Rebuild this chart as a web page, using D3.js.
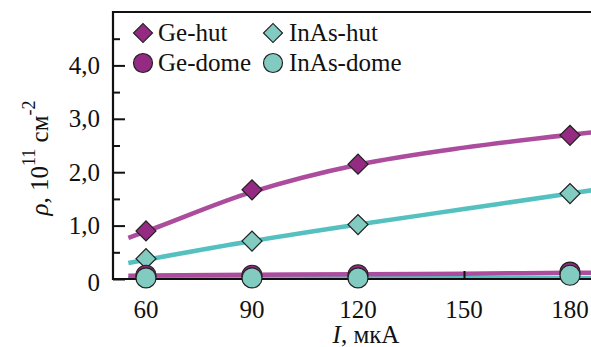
<!DOCTYPE html>
<html>
<head>
<meta charset="utf-8">
<script src="https://cdn.jsdelivr.net/npm/d3@7"></script>
<style>
  #chart text, #chart tspan { font-family: "Liberation Serif", "Times New Roman", serif !important; }
</style>
</head>
<body style="margin:0">
<svg id="chart" width="591" height="347"></svg>
<script>
// Current, µA
const currents = [60, 90, 120, 180];
// Island density, 10^11 cm^-2
const geHut = [0.90, 1.67, 2.15, 2.69];
const inasHut = [0.38, 0.71, 1.02, 1.60];
const geDome = [0.07, 0.07, 0.08, 0.13];
const inasDome = [0.02, 0.02, 0.02, 0.07];

// Smooth fitted curves
const fitCurrents = [55, 60, 90, 120, 150, 180, 190];
const geHutFit = [0.77, 0.89, 1.63, 2.14, 2.46, 2.70, 2.77];
const inasHutFit = [0.30, 0.36, 0.71, 1.02, 1.31, 1.60, 1.70];
const geDomeFit = [0.06, 0.065, 0.08, 0.09, 0.10, 0.115, 0.12];
const inasDomeFit = [0.015, 0.015, 0.02, 0.02, 0.02, 0.02, 0.02];

const xTicks = [60, 90, 120, 150, 180];
const xTickLabels = ["60", "90", "120", "150", "180"];
const yMajor = [0, 1, 2, 3, 4];
const yTickLabels = ["0", "1,0", "2,0", "3,0", "4,0"];
const yMinor = [0.5, 1.5, 2.5, 3.5, 4.5];

const purpleFill = "#952a82", purpleLine = "#ac4c9c";
const tealFill = "#82cbc0", tealLine = "#55c0c0";
const serif = "Liberation Serif";

const svg = d3.select("#chart").attr("font-family", serif);
const plotLeft = 113, plotTop = 12, plotBottom = 279, plotRight = 591;

const x = d3.scaleLinear().domain([60, 180]).range([146, 570]);
const y = d3.scaleLinear().domain([0, 5]).range([plotBottom, plotTop]);

svg.append("defs").append("clipPath").attr("id", "plot")
  .append("rect").attr("x", plotLeft).attr("y", plotTop)
  .attr("width", plotRight - plotLeft).attr("height", plotBottom - plotTop);

// Fitted curves
const line = d3.line().x(d => x(d[0])).y(d => y(d[1])).curve(d3.curveMonotoneX);
const fits = [
  { v: inasDomeFit, c: tealLine },
  { v: geDomeFit, c: purpleLine },
  { v: inasHutFit, c: tealLine },
  { v: geHutFit, c: purpleLine }
];
const gl = svg.append("g").attr("clip-path", "url(#plot)");
fits.forEach(f => {
  gl.append("path")
    .attr("d", line(fitCurrents.map((c, i) => [c, f.v[i]])))
    .attr("fill", "none").attr("stroke", f.c).attr("stroke-width", 4.5);
});

// Axes frame
const axisG = svg.append("g");
axisG.append("path")
  .attr("d", d3.line()([[plotRight + 2, plotTop], [plotLeft, plotTop], [plotLeft, plotBottom], [plotRight + 2, plotBottom]]))
  .attr("fill", "none").attr("stroke", "#111").attr("stroke-width", 2.2);

// Y axis ticks (inward)
const yAxis = d3.axisRight(y).tickValues(yMajor).tickSize(12).tickFormat("");
axisG.append("g").attr("transform", `translate(${plotLeft},0)`).call(yAxis)
  .call(g => g.select(".domain").remove())
  .call(g => g.selectAll("line").attr("stroke", "#111").attr("stroke-width", 2));
const yAxisMinor = d3.axisRight(y).tickValues(yMinor).tickSize(7).tickFormat("");
axisG.append("g").attr("transform", `translate(${plotLeft},0)`).call(yAxisMinor)
  .call(g => g.select(".domain").remove())
  .call(g => g.selectAll("line").attr("stroke", "#111").attr("stroke-width", 2));

// X axis ticks (inward)
const xAxis = d3.axisTop(x).tickValues(xTicks).tickSize(8).tickFormat("");
axisG.append("g").attr("transform", `translate(0,${plotBottom})`).call(xAxis)
  .call(g => g.select(".domain").remove())
  .call(g => g.selectAll("line").attr("stroke", "#111").attr("stroke-width", 2));

// Tick labels
svg.append("g").selectAll("text").data(yMajor).join("text")
  .attr("x", 100).attr("y", d => y(d) + (d === 0 ? 12 : 8.5))
  .attr("text-anchor", "end").attr("font-size", 25).attr("fill", "#111")
  .style("font-family", serif)
  .text((d, i) => yTickLabels[i]);
svg.append("g").selectAll("text").data(xTicks).join("text")
  .attr("x", d => x(d)).attr("y", 318)
  .attr("text-anchor", "middle").attr("font-size", 25).attr("fill", "#111")
  .style("font-family", serif)
  .text((d, i) => xTickLabels[i]);

// Markers
const diamond = d3.symbol(d3.symbolSquare, 200)();
function diamonds(vals, fill) {
  svg.append("g").selectAll("path").data(currents).join("path")
    .attr("d", diamond)
    .attr("transform", (d, i) => `translate(${x(d)},${y(vals[i])}) rotate(45)`)
    .attr("fill", fill).attr("stroke", "#222").attr("stroke-width", 1.2);
}
function circles(vals, fill) {
  svg.append("g").selectAll("circle").data(currents).join("circle")
    .attr("cx", d => x(d)).attr("cy", (d, i) => y(vals[i])).attr("r", 10)
    .attr("fill", fill).attr("stroke", "#222").attr("stroke-width", 1.2);
}
diamonds(geHut, purpleFill);
diamonds(inasHut, tealFill);
circles(geDome, purpleFill);
circles(inasDome, tealFill);

// Legend
const legend = [
  { name: "Ge-hut", shape: "d", fill: purpleFill, sx: 143, sy: 33, tx: 158, ty: 41 },
  { name: "InAs-hut", shape: "d", fill: tealFill, sx: 273, sy: 33, tx: 289, ty: 41 },
  { name: "Ge-dome", shape: "c", fill: purpleFill, sx: 143, sy: 63, tx: 158, ty: 71 },
  { name: "InAs-dome", shape: "c", fill: tealFill, sx: 273, sy: 63, tx: 289, ty: 71 }
];
const lg = svg.append("g");
legend.forEach(l => {
  if (l.shape === "d") {
    lg.append("path").attr("d", d3.symbol(d3.symbolSquare, 180)())
      .attr("transform", `translate(${l.sx},${l.sy}) rotate(45)`)
      .attr("fill", l.fill).attr("stroke", "#222").attr("stroke-width", 1.2);
  } else {
    lg.append("circle").attr("cx", l.sx).attr("cy", l.sy).attr("r", 9.5)
      .attr("fill", l.fill).attr("stroke", "#222").attr("stroke-width", 1.2);
  }
  lg.append("text").attr("x", l.tx).attr("y", l.ty).attr("font-size", 25)
    .attr("fill", "#111").style("font-family", serif).text(l.name);
});

// Axis titles
const xt = svg.append("text").attr("x", 366).attr("y", 343)
  .attr("text-anchor", "middle").attr("font-size", 25).attr("fill", "#111")
  .style("font-family", serif);
xt.append("tspan").attr("font-style", "italic").text("I");
xt.append("tspan").text(", мкА");

const yt = svg.append("text").attr("transform", "translate(48,158) rotate(-90)")
  .attr("text-anchor", "middle").attr("font-size", 25).attr("fill", "#111")
  .style("font-family", serif);
yt.append("tspan").attr("font-style", "italic").text("ρ");
yt.append("tspan").text(", 10");
yt.append("tspan").attr("font-size", 18).attr("dy", -13).text("11");
yt.append("tspan").attr("dy", 13).text(" см");
yt.append("tspan").attr("font-size", 18).attr("dy", -13).text("-2");
</script>
</body>
</html>
